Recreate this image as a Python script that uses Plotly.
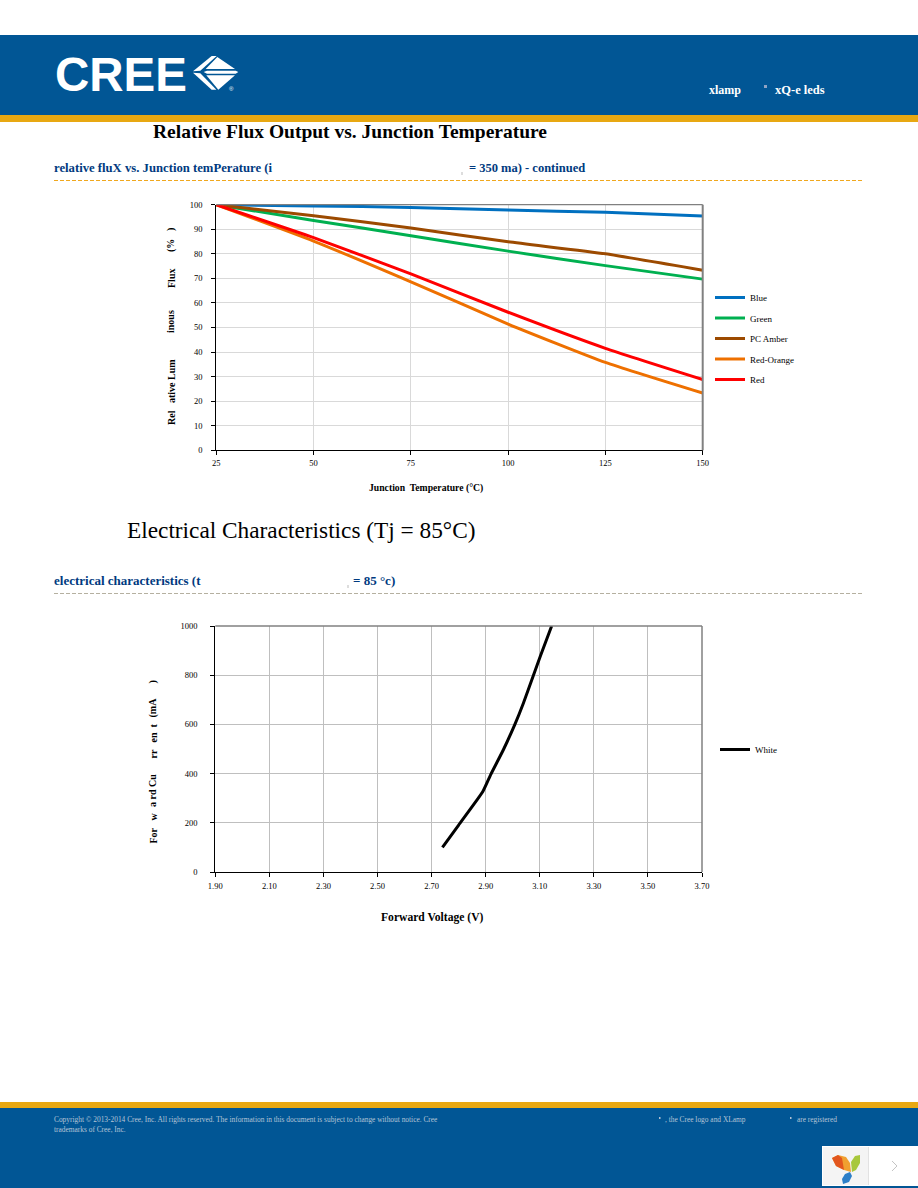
import plotly.graph_objects as go

W, H = 918, 1188

# ---- data ----
temps = [25, 50, 75, 100, 125, 150]
blue = [100, 99.5, 98.9, 97.8, 96.9, 95.4]
green = [100, 93.6, 87.4, 81.1, 75.2, 69.7]
pc_amber = [100, 95.5, 90.5, 84.9, 80.0, 73.3]
red_orange = [100, 85.2, 68.6, 51.4, 35.8, 23.3]
red = [100, 86.6, 71.8, 56.2, 41.5, 28.8]
volts = [2.74, 2.80, 2.889, 2.919, 2.965, 3.008, 3.039, 3.075, 3.103, 3.144]
white_ma = [100, 191, 326, 397, 496, 600, 685, 795, 880, 1000]
temp_ticks = [25, 50, 75, 100, 125, 150]
flux_ticks = [0, 10, 20, 30, 40, 50, 60, 70, 80, 90, 100]
volt_ticks = [1.9, 2.1, 2.3, 2.5, 2.7, 2.9, 3.1, 3.3, 3.5, 3.7]
ma_ticks = [0, 200, 400, 600, 800, 1000]

SERIF = "Liberation Serif"
HDR = "#015695"
GOLD = "#E8A812"
NAVY = "#003A80"


def px(x):
    return x / W


def py(y):
    return 1 - y / H


def poly(points, color, line=None):
    d = "M" + " L".join(f"{px(x):.5f},{py(y):.5f}" for x, y in points) + " Z"
    return dict(type="path", xref="paper", yref="paper", path=d, fillcolor=color,
                line=dict(width=0) if line is None else line, layer="above")


def rect(x0, y0, x1, y1, color, layer="below"):
    return dict(type="rect", xref="paper", yref="paper", x0=px(x0), x1=px(x1), y0=py(y0), y1=py(y1),
                fillcolor=color, line=dict(width=0), layer=layer)


def hline(x0, x1, y, color, dash="solid", width=1):
    return dict(type="line", xref="paper", yref="paper", x0=px(x0), x1=px(x1), y0=py(y), y1=py(y),
                line=dict(color=color, width=width, dash=dash), layer="above")


def vline(x, y0, y1, color, width=1):
    return dict(type="line", xref="paper", yref="paper", x0=px(x), x1=px(x), y0=py(y0), y1=py(y1),
                line=dict(color=color, width=width), layer="above")


def txt(x, y, s, size, color="#000000", bold=False, anchor="left", angle=0, family=SERIF):
    t = f"<b>{s}</b>" if bold else s
    xx = x - 1 if anchor == "left" else x
    return dict(xref="paper", yref="paper", x=px(xx), y=py(y), text=t, showarrow=False,
                xanchor=anchor, yanchor="middle", textangle=angle, borderpad=0,
                font=dict(family=family, size=size, color=color))


fig = go.Figure()

series = [("Blue", blue, "#0070C0"), ("Green", green, "#00B050"), ("PC Amber", pc_amber, "#9C4A00"),
          ("Red-Orange", red_orange, "#EE7000"), ("Red", red, "#FF0000")]
for name, vals, col in series:
    fig.add_trace(go.Scatter(x=temps, y=vals, name=name, mode="lines", legendgroup=name,
                             line=dict(color=col, width=3, shape="spline", smoothing=0.5),
                             xaxis="x", yaxis="y", legend="legend"))
fig.add_trace(go.Scatter(x=volts, y=white_ma, name="White", mode="lines",
                         line=dict(color="#000000", width=3, shape="spline", smoothing=0.4),
                         xaxis="x2", yaxis="y2", legend="legend2"))

tickfont = dict(family=SERIF, size=8.5, color="#000000")
common = dict(showgrid=True, showline=True, linecolor="#000000", linewidth=1.3, ticks="outside",
              ticklen=4, tickcolor="#000000", tickwidth=1, tickfont=tickfont, zeroline=False, automargin=False)

C1 = (216.3, 702.7, 204.7, 450.3)
C2 = (215.3, 702.0, 626.0, 872.0)

fig.update_layout(
    width=W, height=H, autosize=False, margin=dict(l=0, r=0, t=0, b=0, pad=0, autoexpand=False),
    paper_bgcolor="#FFFFFF", plot_bgcolor="rgba(0,0,0,0)", showlegend=True,
    xaxis=dict(domain=[px(C1[0]), px(C1[1])], range=[25, 150], tickvals=temp_ticks, ticktext=[str(v) for v in temp_ticks],
               gridcolor="#D9D9D9", gridwidth=1, anchor="y", **common),
    yaxis=dict(domain=[py(C1[3]), py(C1[2])], range=[0, 100], tickvals=flux_ticks, gridcolor="#D9D9D9", gridwidth=1,
               anchor="x", ticklabelstandoff=7, **common),
    xaxis2=dict(domain=[px(C2[0]), px(C2[1])], range=[1.9, 3.7], tickvals=volt_ticks, ticktext=[f"{v:.2f}" for v in volt_ticks],
                gridcolor="#BFBFBF", gridwidth=1, anchor="y2", ticklabelstandoff=2, **common),
    yaxis2=dict(domain=[py(C2[3]), py(C2[2])], range=[0, 1000], tickvals=ma_ticks, gridcolor="#BFBFBF", gridwidth=1,
                anchor="x2", ticklabelstandoff=11, **common),
    legend=dict(x=px(710), y=py(283), xanchor="left", yanchor="top", bgcolor="rgba(0,0,0,0)", borderwidth=0,
                tracegroupgap=1.5, font=dict(family=SERIF, size=9, color="#000000"), traceorder="grouped"),
    legend2=dict(x=px(715), y=py(735), xanchor="left", yanchor="top", bgcolor="rgba(0,0,0,0)", borderwidth=0,
                 font=dict(family=SERIF, size=9, color="#000000")),
)

RULE_DASH = "4px,2px"
shapes = [
    # header / footer bands
    rect(0, 35, W, 115, HDR), rect(0, 115, W, 122, GOLD),
    rect(0, 1102, W, 1108, GOLD), rect(0, 1108, W, 1188, HDR),
    # section rules
    hline(54, 863, 180.5, "#F0A81E", RULE_DASH, 1),
    hline(54, 863, 593.5, "#B5B0A0", RULE_DASH, 1),
    # plot frames
    hline(C1[0], C1[1], C1[2], "#808080", width=1.3), vline(C1[1], C1[2], C1[3], "#808080", width=2),
    hline(C2[0], C2[1], C2[2], "#808080", width=1.3), vline(C2[1], C2[2], C2[3], "#808080", width=1.5),
    # small marks from the page
    rect(764, 85, 767, 88, "#8FA3C4", "above"), rect(461, 172, 463, 175, "#DDDDDD", "above"),
    rect(347, 585, 349, 588, "#DDDDDD", "above"), rect(659, 1117, 660.5, 1119, "#B0C0D4", "above"),
    rect(790, 1117, 791.5, 1119, "#B0C0D4", "above"),
    # page-turn widget
    rect(822, 1146, 918, 1186, "#FFFFFF", "above"), rect(823, 1147, 868, 1185, "#F4F4F4", "above"),
    rect(868, 1147, 869, 1185, "#E2E2E2", "above"),
    dict(type="path", xref="paper", yref="paper", line=dict(color="#C4C4C4", width=1), layer="above",
         path=f"M{px(892):.5f},{py(1161):.5f} L{px(897):.5f},{py(1166):.5f} L{px(892):.5f},{py(1171):.5f}"),
    # leaves
    poly([(832, 1158), (838, 1155), (846, 1157), (850, 1163), (851, 1172), (844, 1170), (836, 1166)], "#F0A030"),
    poly([(832, 1158), (838, 1155), (842, 1158), (844, 1170), (836, 1166)], "#E2561E"),
    poly([(852, 1172), (851, 1162), (855, 1156), (860, 1155), (860, 1163), (856, 1170)], "#A8C83C"),
    poly([(850, 1172), (852, 1176), (849, 1182), (843, 1184), (842, 1179), (845, 1174)], "#2D7FC8"),
]
# logo mark: coordinates in a 3x crop of the page
ox, oy = 185, 48
logo = [
    [(24, 70), (80, 24), (95, 24), (46, 68)],
    [(62, 63), (97, 27), (150, 63)],
    [(56, 72), (66, 68), (152, 68), (160, 72), (152, 77), (66, 77)],
    [(24, 74), (46, 76), (94, 125), (80, 125)],
    [(64, 82), (150, 82), (100, 125)],
]
for p in logo:
    shapes.append(poly([(ox + a / 3, oy + b / 3) for a, b in p], "#FFFFFF"))
fig.update_layout(shapes=shapes)

ann = [
    txt(55, 74, "CREE", 47.5, "#FFFFFF", True, family="Liberation Sans"),
    txt(231, 88.5, "®", 6, "#FFFFFF", False, "center", family="Liberation Sans"),
    txt(709, 90.5, "xlamp", 12, "#FFFFFF", True),
    txt(775, 90.5, "xQ-e leds", 12.5, "#FFFFFF", True),
    txt(153, 131, "Relative Flux Output vs. Junction Temperature", 19.5, "#000000", True),
    txt(54, 168, "relative fluX vs. Junction temPerature (i", 12.7, NAVY, True),
    txt(469, 168, "= 350 ma) - continued", 12.5, NAVY, True),
    txt(127, 530, "Electrical Characteristics (Tj = 85°C)", 23.3),
    txt(54, 580.5, "electrical characteristics (t", 13, NAVY, True),
    txt(353, 580.5, "= 85 °c)", 13, NAVY, True),
    txt(426, 488.5, "Junction  Temperature (°C)", 9.7, "#000000", True, "center"),
    txt(432.5, 917.5, "Forward Voltage (V)", 11.6, "#000000", True, "center"),
    txt(54, 1119, "Copyright © 2013-2014 Cree, Inc. All rights reserved. The information in this document is subject to change without notice. Cree", 7.4, "#B5C4D6"),
    txt(665, 1119, ", the Cree logo and XLamp", 7.4, "#B5C4D6"),
    txt(797, 1119, "are registered", 7.4, "#B5C4D6"),
    txt(54, 1129.5, "trademarks of Cree, Inc.", 7.4, "#B5C4D6"),
]
# y-axis titles: broken into the pieces the page shows
for s, yc in [("Rel", 418), ("ative Lum", 381), ("inous", 322), ("Flux", 279), ("(%", 246), (")", 230)]:
    ann.append(txt(171, yc, s, 10, "#000000", True, "center", -90))
for s, yc in [("For", 836), ("w", 817), ("a rd Cu", 790.5), ("rr", 754), ("en", 738), ("t", 726), ("(mA", 708), (")", 682)]:
    ann.append(txt(152.5, yc, s, 10, "#000000", True, "center", -90))
fig.update_layout(annotations=ann)

fig.write_html("out.html", config=dict(displayModeBar=False),
               post_script="document.body.style.margin='0';document.documentElement.style.overflow='hidden';")
